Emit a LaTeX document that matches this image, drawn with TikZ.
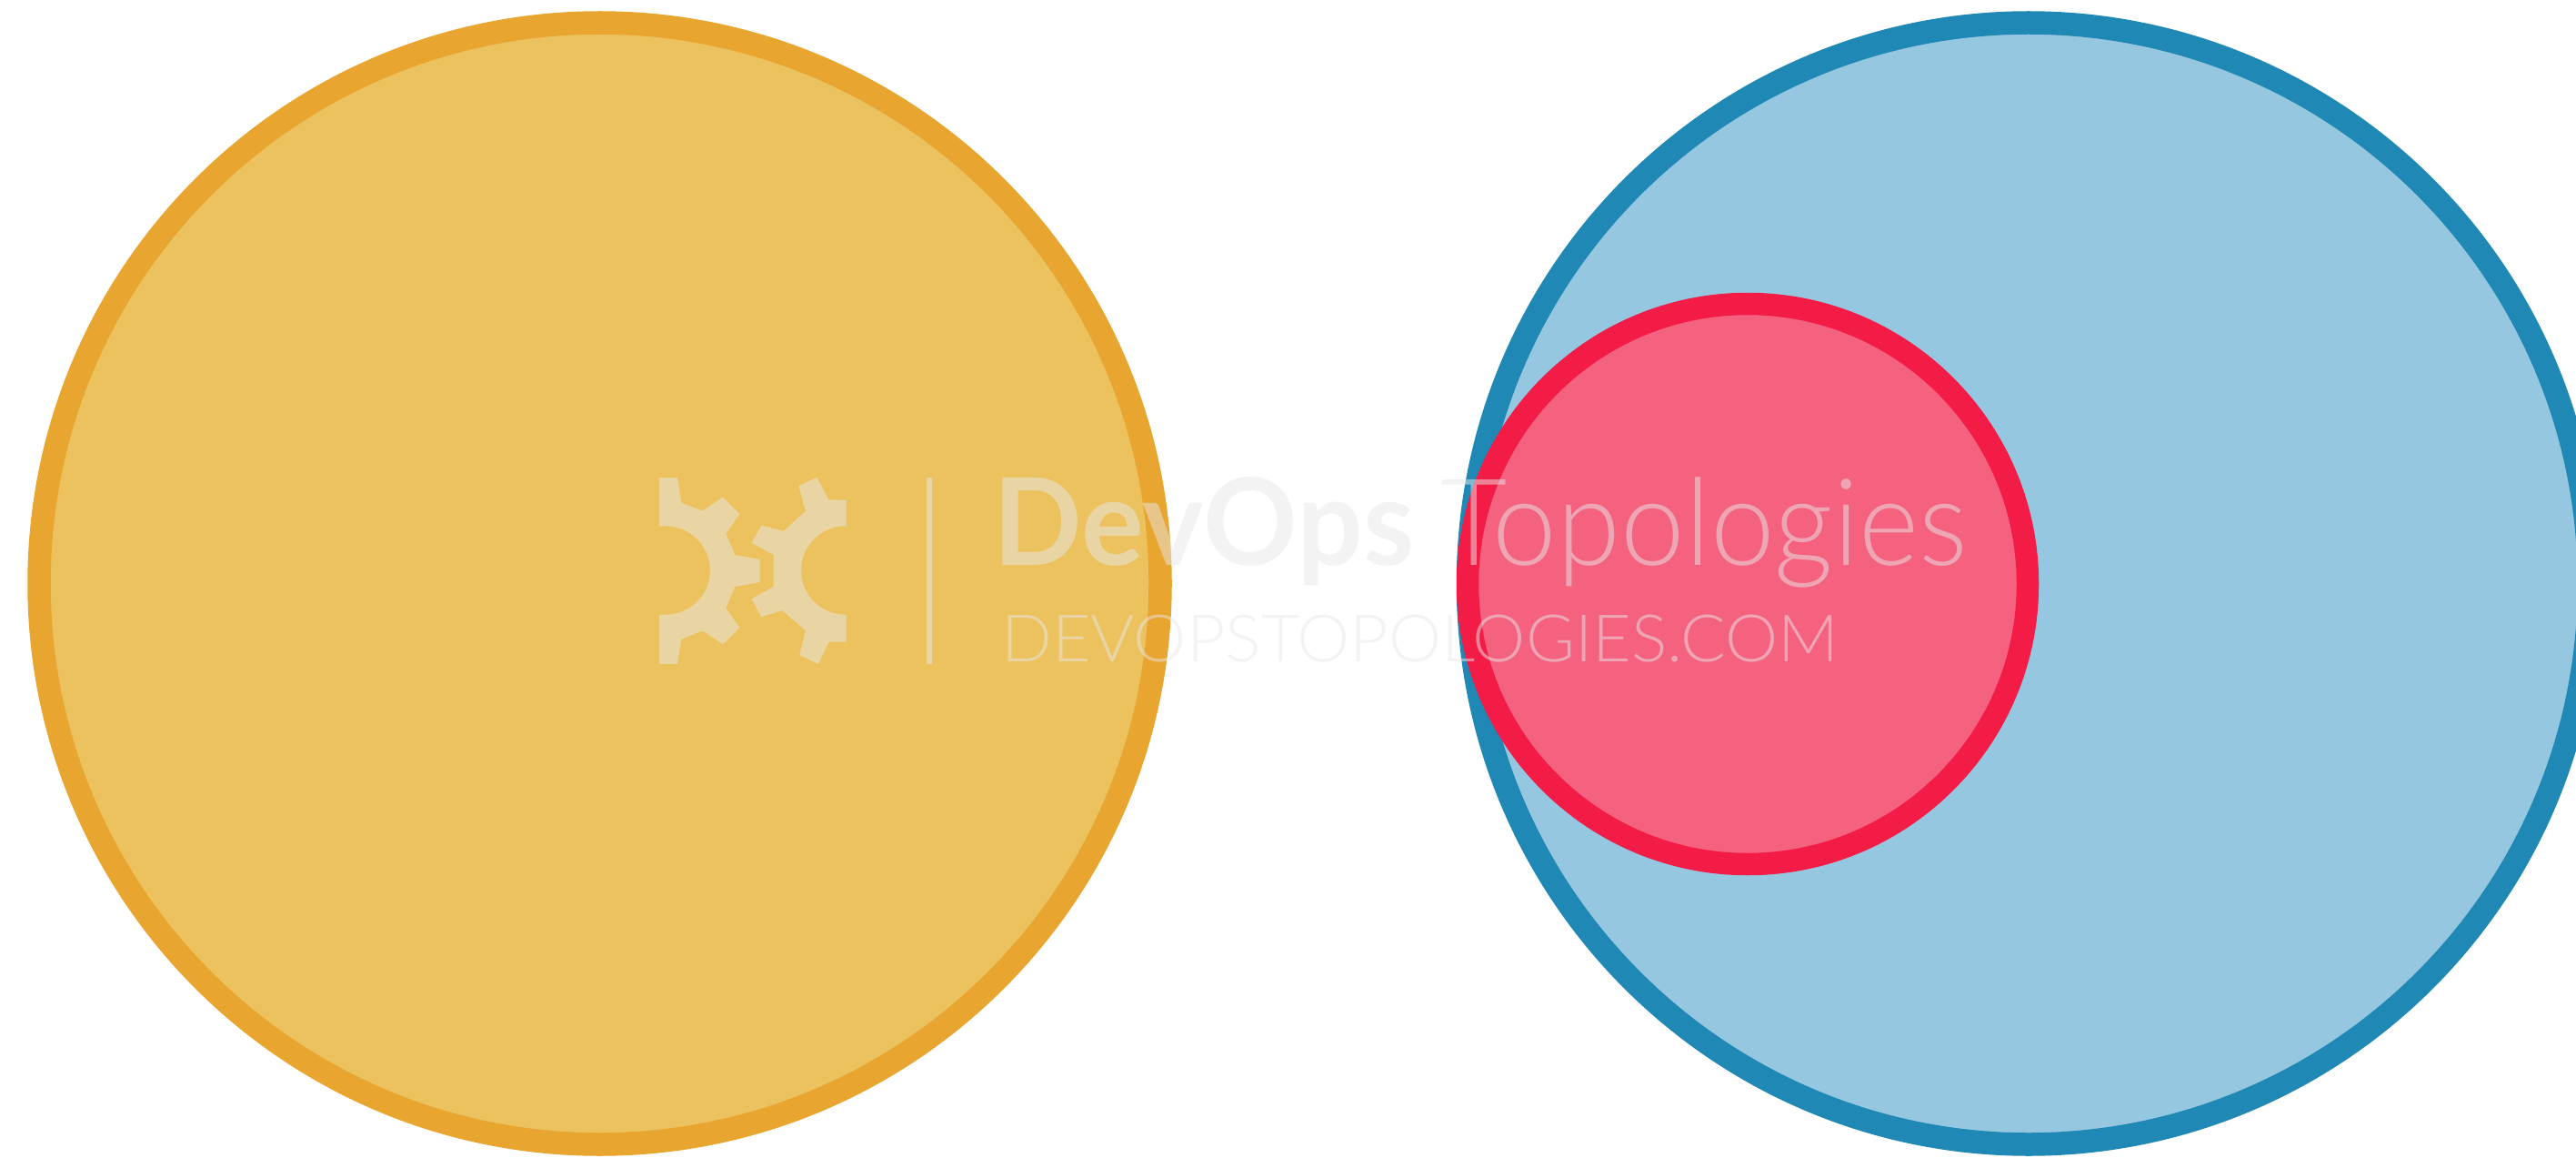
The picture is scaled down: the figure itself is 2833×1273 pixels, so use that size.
\documentclass[tikz,border=0pt]{standalone}
\usepackage{fontspec}
\setmainfont{Lato}
\newfontfamily\latolight{Lato Light}
\definecolor{orangeline}{HTML}{E8A52F}
\definecolor{orangefill}{HTML}{ECC25F}
\definecolor{blueline}{HTML}{2088B5}
\definecolor{bluefill}{HTML}{95C7E0}
\definecolor{redline}{HTML}{F31C47}
\definecolor{redfill}{HTML}{F56280}
\definecolor{markgrey}{HTML}{E8E8E8}
\tikzset{
  ring/.style={line width=25.5pt},
  markshape/.style={fill=markgrey,fill opacity=0.5,draw=none},
  marktext/.style={text=markgrey,text opacity=0.5,inner sep=0pt,anchor=base west}
}
\begin{document}
\begin{tikzpicture}[x=1pt,y=-1pt]
\useasboundingbox (0,0) rectangle (2833,1273);
\clip (0,0) rectangle (2833,1273);
\draw[ring,draw=orangeline,fill=orangefill] (659.5,641.5) circle[radius=616.5];
\draw[ring,draw=blueline,fill=bluefill] (2231,641.5) circle[radius=616.5];
\draw[ring,draw=redline,fill=redfill,line width=24.5pt] (1922,642) circle[radius=308];
\begin{scope}[shift={(700,510)},x=0.3333pt,y=-0.3333pt]
\fill[markshape] (75,45)--(135,45)--(148,128)--(218,155)--(285,110)--(340,165)--(295,230)--(325,300)--(407,315)--(407,390)--(325,405)--(295,475)--(340,540)--(285,595)--(218,550)--(148,578)--(135,660)--(75,660)--(75,497)--(97,497) arc[start angle=90,end angle=-90,radius=146] --(75,205)--cycle;
\fill[markshape] (692,120)--(692,205)--(689,205) arc[start angle=-90,end angle=-270,radius=146] --(692,497)--(692,587)--(635,587)--(600,660)--(538,630)--(558,550)--(480,483)--(412,505)--(380,445)--(452,405)--(452,300)--(380,260)--(412,203)--(485,222)--(558,155)--(535,72)--(595,45)--(635,118)--cycle;
\fill[markshape] (956,45) rectangle (974,660);
\end{scope}
\node[marktext] (brandbold) at (1092,621) {\scalebox{0.966}[1]{\fontsize{133}{140}\selectfont\textbf{DevOps}}};
\node[marktext] (brandlight) at (1584,621) {\scalebox{0.952}[1]{\latolight\fontsize{133}{140}\selectfont Topologies}};
\node[marktext] (site) at (1101,727) {\scalebox{1.022}[1]{\latolight\fontsize{72}{76}\selectfont DEVOPSTOPOLOGIES.COM}};
\end{tikzpicture}
\end{document}
